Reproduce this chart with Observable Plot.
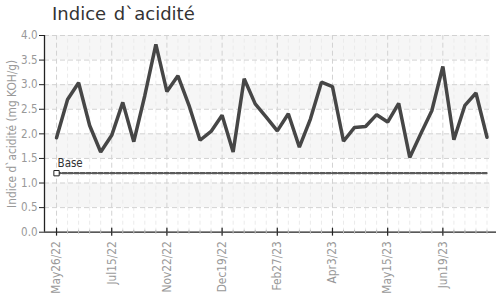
<!DOCTYPE html>
<html><head><meta charset="utf-8">
<script src="https://cdn.jsdelivr.net/npm/d3@7"></script>
<script src="https://cdn.jsdelivr.net/npm/@observablehq/plot@0.6"></script>
<style>
body{margin:0;background:#fff;width:496px;height:301px;overflow:hidden;}
#title{position:relative;height:28px;}
#title span{position:absolute;left:52px;top:5px;font-family:"DejaVu Sans",sans-serif;font-size:18px;line-height:1;color:#333;white-space:pre;word-spacing:2px;}
#chart svg{display:block;}
</style>
</head><body>
<div id="title"><span>Indice d`acidité</span></div>
<div id="chart"></div>
<script>
// Data
const values = [1.92, 2.70, 3.04, 2.17, 1.63, 1.97, 2.64, 1.84, 2.78, 3.82,
                2.86, 3.18, 2.58, 1.87, 2.05, 2.38, 1.63, 3.12, 2.61, 2.34,
                2.06, 2.41, 1.73, 2.30, 3.05, 2.96, 1.85, 2.13, 2.15, 2.39,
                2.24, 2.62, 1.52, 2.00, 2.47, 3.37, 1.88, 2.58, 2.83, 1.93];
const tickLabels = ["May26/22", "Jul15/22", "Nov22/22", "Dec19/22", "Feb27/23", "Apr3/23", "May15/23", "Jun19/23"];
const tickIndex = [0, 5, 10, 15, 20, 25, 30, 35];
const baseValue = 1.2;
const baseLabel = "Base";
const yTicks = [0, 0.5, 1.0, 1.5, 2.0, 2.5, 3.0, 3.5, 4.0];
const yLabel = "Indice d`acidité (mg KOH/g)";

const pts = values.map((v, i) => ({i, v}));
const idx = values.map((_, i) => i);
const basePts = [{i: 0, v: baseValue}, {i: values.length - 1, v: baseValue}];
const bands = yTicks.slice(0, -1).map((y, k) => ({y1: y, y2: yTicks[k + 1], k}))
  .filter(d => (yTicks.length - 2 - d.k) % 2 === 0);
const labelMap = new Map(tickIndex.map((t, k) => [t, tickLabels[k]]));

const font = "'DejaVu Sans Condensed','DejaVu Sans',sans-serif";
const xMin = -1.09, xMax = 39.86, xGrid = 39.3;

const chart = Plot.plot({
  width: 496,
  height: 273,
  marginTop: 7,
  marginBottom: 69.3,
  marginLeft: 44,
  marginRight: 0,
  style: {fontFamily: font, fontSize: "11.5px", background: "#fff", overflow: "visible"},
  x: {type: "linear", domain: [xMin, xMax], axis: null},
  y: {type: "linear", domain: [0, 4], axis: null},
  marks: [
    Plot.rect(bands, {x1: () => xMin, x2: () => xGrid, y1: "y1", y2: "y2", fill: "#f6f6f6"}),
    Plot.ruleX(idx.filter(i => !labelMap.has(i)), {y1: () => 0, y2: () => 4, stroke: "#ebebeb", strokeDasharray: "4,3"}),
    Plot.ruleX(tickIndex, {y1: () => 0, y2: () => 4, stroke: "#d2d2d2", strokeDasharray: "5,3"}),
    Plot.ruleY(yTicks.slice(1), {x1: () => xMin, x2: () => xGrid, stroke: "#d2d2d2", strokeDasharray: "5,3"}),
    // axes
    Plot.axisY({ticks: yTicks, tickFormat: d3.format(".1f"), tickSize: 5, tickPadding: 2, stroke: "#222", fill: "#999", fontSize: 11.5, label: null}),
    Plot.ruleX([xMin], {y1: () => 0, y2: () => 4, stroke: "#222", strokeWidth: 1.3}),
    Plot.ruleY([0], {x1: () => xMin, x2: () => xMax, stroke: "#222", strokeWidth: 1.3}),
    Plot.text([yLabel], {frameAnchor: "left", dx: -32, rotate: -90, fill: "#999", fontSize: 11.8, textAnchor: "middle"}),
    Plot.ruleX(idx, {y1: () => -0.04, y2: () => 0.04, stroke: "#bbb", strokeWidth: 1}),
    Plot.ruleX(tickIndex, {y1: () => -0.08, y2: () => 0.08, stroke: "#222", strokeWidth: 1.2}),
    Plot.axisX({ticks: tickIndex, tickFormat: d => labelMap.get(d), tickSize: 0, tickPadding: 9, tickRotate: -90, fill: "#999", fontSize: 11.8, label: null}),
    // base line
    Plot.line(basePts, {x: "i", y: "v", stroke: "#5a5a5a", strokeWidth: 2.2, strokeDasharray: "4,2"}),
    Plot.dot(basePts.slice(0, 1), {x: "i", y: "v", symbol: "square", r: 3, fill: "#fff", stroke: "#222", strokeWidth: 1}),
    Plot.text(basePts.slice(0, 1), {x: "i", y: "v", text: () => baseLabel, dx: 1, dy: -10, textAnchor: "start", fill: "#333", fontSize: 11.5}),
    // main series
    Plot.line(pts, {x: "i", y: "v", stroke: "#464646", strokeWidth: 3.5, strokeLinejoin: "miter"})
  ]
});
document.getElementById("chart").appendChild(chart);
</script>
</body></html>
